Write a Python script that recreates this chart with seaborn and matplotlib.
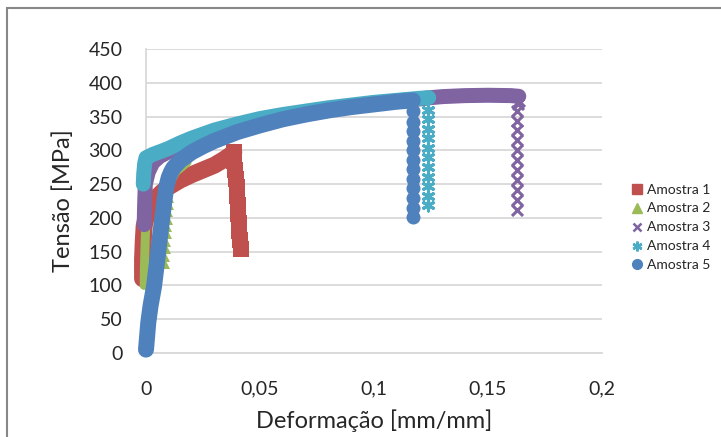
import matplotlib
matplotlib.use("Agg")
import matplotlib.pyplot as plt
from matplotlib.lines import Line2D
from matplotlib.patches import Rectangle
import pandas as pd
import seaborn as sns

# ---------------- data ----------------
series_names = ["Amostra 1", "Amostra 2", "Amostra 3", "Amostra 4", "Amostra 5"]
series_colors = ["#C0504D", "#9BBB59", "#8064A2", "#4BACC6", "#4F81BD"]

# Amostra 1 (squares)
a1_curve_x = [-0.0015, -0.0015, -0.0012, -0.0008, 0.000, 0.002, 0.004, 0.007, 0.010, 0.015, 0.020, 0.025, 0.030, 0.034, 0.037, 0.0385]
a1_curve_y = [110, 140, 165, 188, 200, 215, 228, 238, 246, 256, 264, 271, 278, 286, 293, 297]
a1_drop_x = [0.0385, 0.0388, 0.0391, 0.0394, 0.0397, 0.0400, 0.0402, 0.0405, 0.0408, 0.0410, 0.0413, 0.0415]
a1_drop_y = [297, 284, 271, 258, 245, 232, 219, 206, 193, 180, 167, 154]

# Amostra 2 (triangles)
a2_toe_x = [-0.0008, -0.0007, -0.0005, -0.0003, -0.0001]
a2_toe_y = [100, 125, 150, 172, 190]
a2_elastic_x = [0.0079, 0.0081, 0.0083, 0.0085, 0.0087, 0.0089, 0.0091, 0.0093, 0.0095, 0.0096]
a2_elastic_y = [133, 144, 155, 166, 177, 188, 199, 210, 221, 231]
a2_rest_x = [0.0096, 0.0105, 0.013, 0.018]
a2_rest_y = [231, 252, 268, 282]

# Amostra 3 (x marks)
a3_curve_x = [-0.0008, -0.0006, -0.0003, 0.001, 0.003, 0.006, 0.010, 0.020, 0.030, 0.040, 0.050, 0.060, 0.070,
              0.080, 0.090, 0.100, 0.110, 0.120, 0.125, 0.130, 0.140, 0.150, 0.160, 0.1635]
a3_curve_y = [190, 220, 250, 268, 282, 291, 298, 308, 321, 332, 342, 349, 355,
              361, 365, 369, 373, 376, 378, 379.5, 381, 381.5, 381, 380]
a3_drop_x = [0.1638, 0.1630, 0.1628, 0.1628, 0.1628, 0.1628, 0.1628, 0.1628, 0.1628, 0.1628, 0.1628, 0.1628, 0.1628]
a3_drop_y = [373, 368, 358, 344, 330, 315, 300, 286, 271, 256, 241, 226, 211]

# Amostra 4 (asterisks)
a4_curve_x = [-0.0012, -0.0010, -0.0006, 0.000, 0.003, 0.007, 0.010, 0.015, 0.020, 0.030, 0.040, 0.050, 0.060,
              0.070, 0.080, 0.090, 0.100, 0.110, 0.120, 0.124]
a4_curve_y = [250, 265, 280, 289, 294, 299, 303, 311, 318, 330, 339, 347, 353,
              358, 363, 367, 371, 374, 377, 378]
a4_drop_x = [0.1237] * 11
a4_drop_y = [360, 346, 332, 318, 304, 290, 275, 261, 247, 233, 219]

# Amostra 5 (circles)
a5_curve_x = [0.000, 0.001, 0.002, 0.0035, 0.0053, 0.0070, 0.0088, 0.010, 0.011, 0.012, 0.015, 0.020, 0.025, 0.030,
              0.040, 0.050, 0.060, 0.070, 0.080, 0.090, 0.100, 0.110, 0.117]
a5_curve_y = [5, 45, 70, 98, 148, 197, 244, 260, 268, 274, 285, 297, 306, 314,
              327, 337, 346, 353, 359, 364, 368, 372, 374]
a5_drop_x = [0.1171] * 12
a5_drop_y = [358, 342, 328, 314, 300, 286, 272, 258, 244, 229, 215, 201]

x_ticks = [0, 0.05, 0.1, 0.15, 0.2]
x_tick_labels = ["0", "0,05", "0,1", "0,15", "0,2"]
y_ticks = [0, 50, 100, 150, 200, 250, 300, 350, 400, 450]
y_tick_labels = [str(v) for v in y_ticks]

# ---------------- figure ----------------
sns.set_theme(style="white")
plt.rcParams["font.family"] = ["Lato", "DejaVu Sans"]

W, H = 721, 437
fig = plt.figure(figsize=(W / 100, H / 100), dpi=100)
fig.patch.set_facecolor("white")
ax = fig.add_axes([146 / W, 1 - 353 / H, 456 / W, 304 / H])
ax.set_facecolor("white")

PX = 0.72  # points per pixel at dpi 100


def band(x, y, color, lw_px, z):
    df = pd.DataFrame({"x": x, "y": y})
    sns.lineplot(data=df, x="x", y="y", sort=False, estimator=None, color=color,
                 lw=lw_px * PX, ax=ax, zorder=z, clip_on=False,
                 solid_capstyle="round", solid_joinstyle="round", legend=False)


def marks(x, y, color, marker, size_px, z, lw=0.0):
    df = pd.DataFrame({"x": x, "y": y})
    sns.scatterplot(data=df, x="x", y="y", marker=marker, s=(size_px * PX) ** 2,
                    color=color, ax=ax, zorder=z, clip_on=False, legend=False,
                    linewidth=lw, edgecolor=color)


c1, c2, c3, c4, c5 = series_colors

# Amostra 1
band(a1_curve_x, a1_curve_y, c1, 17, 2)
marks(a1_drop_x, a1_drop_y, c1, "s", 16, 2)
# Amostra 2
band(a2_toe_x, a2_toe_y, c2, 9, 3)
marks(a2_elastic_x, a2_elastic_y, c2, "^", 11, 3)
band(a2_rest_x, a2_rest_y, c2, 9, 3)
# Amostra 3
band(a3_curve_x, a3_curve_y, c3, 15, 4)
marks(a3_drop_x, a3_drop_y, c3, "x", 11, 4, lw=2.2)
# Amostra 4
band(a4_curve_x, a4_curve_y, c4, 15, 5)
marks(a4_drop_x, a4_drop_y, c4, (6, 2, 0), 11, 5, lw=2.2)
# Amostra 5
band(a5_curve_x, a5_curve_y, c5, 16, 6)
marks(a5_drop_x, a5_drop_y, c5, "o", 14, 6)

ax.set_xlim(0, 0.2)
ax.set_ylim(0, 450)
ax.set_xticks(x_ticks)
ax.set_xticklabels(x_tick_labels)
ax.set_yticks(y_ticks)
ax.set_yticklabels(y_tick_labels)
ax.tick_params(axis="both", length=0, labelsize=14, colors="#262626")
ax.tick_params(axis="y", pad=17)
ax.tick_params(axis="x", pad=20)
ax.yaxis.grid(True, color="#D9D9D9", lw=1.3, zorder=0)
ax.xaxis.grid(False)
ax.set_axisbelow(True)
for s in ("top", "right"):
    ax.spines[s].set_visible(False)
for s in ("left", "bottom"):
    ax.spines[s].set_color("#D9D9D9")
    ax.spines[s].set_linewidth(1.3)

ax.set_xlabel("Deformação [mm/mm]", fontsize=17, color="#262626", labelpad=8)
ax.set_ylabel("Tensão [MPa]", fontsize=17, color="#262626", labelpad=10)

handles = [
    Line2D([], [], ls="none", marker="s", color=c1, markersize=7),
    Line2D([], [], ls="none", marker="^", color=c2, markersize=7),
    Line2D([], [], ls="none", marker="x", color=c3, markersize=6, markeredgewidth=1.8),
    Line2D([], [], ls="none", marker=(6, 2, 0), color=c4, markersize=7, markeredgewidth=1.8),
    Line2D([], [], ls="none", marker="o", color=c5, markersize=7),
]
fig.legend(handles, series_names, loc="upper left", bbox_to_anchor=(626 / W, 1 - 178 / H),
           bbox_transform=fig.transFigure, frameon=False, fontsize=10, handlelength=0.8,
           handletextpad=0.3, labelspacing=0.5, borderaxespad=0, labelcolor="#262626")

fig.add_artist(Rectangle((7 / W, -0.1), 1.2, 1.1 - 8 / H, transform=fig.transFigure,
                         fill=False, ec="#878787", lw=1.5))

fig.savefig("out.png", dpi=100, facecolor="white")
